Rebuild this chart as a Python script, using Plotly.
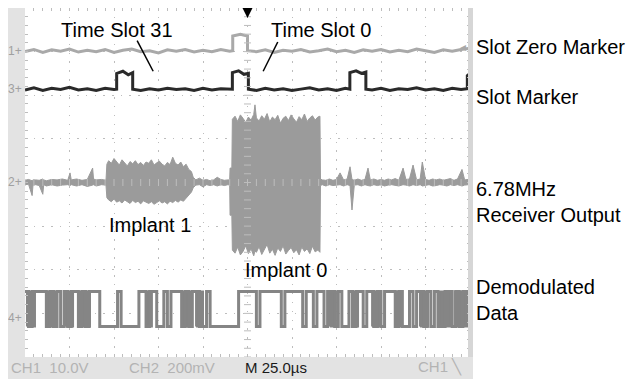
import numpy as np
import plotly.graph_objects as go

# ---------------- data (time in µs, amplitude in screen divisions) -------------
# CH1 : slot-zero marker
ch1_t = [-125, -120, -115, -110, -105, -100, -95, -90, -85, -80, -75, -70, -65, -60, -55, -50,
         -45, -40, -35, -30, -25, -20, -15, -10, -8.3, -8.3, -4, 0, 0, 5, 10, 15, 20, 25, 30,
         35, 40, 45, 50, 55, 60, 65, 70, 75, 80, 85, 90, 95, 100, 105, 110, 115, 120, 125]
ch1_v = [3.00, 3.05, 2.98, 3.04, 3.01, 3.06, 2.99, 3.03, 3.00, 3.05, 2.98, 3.03, 3.06, 3.00, 3.02, 2.97,
         3.04, 3.01, 3.05, 2.99, 3.03, 3.00, 3.05, 3.01, 3.02, 3.36, 3.40, 3.36, 3.02, 3.00, 3.04, 2.98, 3.03, 3.01, 3.05,
         2.99, 3.02, 3.06, 3.00, 3.03, 2.98, 3.04, 3.01, 3.05, 2.99, 3.03, 3.00, 3.06, 3.02, 2.98, 3.04, 3.01, 3.05, 3.08]

# CH3 : slot marker
ch3_t = [-125, -120, -115, -110, -105, -100, -95, -90, -85, -80, -75, -73.5, -73.5, -70, -67, -64.5, -64.5,
         -60, -55, -50, -45, -40, -35, -30, -25, -20, -15, -10, -8.5, -8.5, -5, -2, 0.5, 0.5,
         5, 10, 15, 20, 25, 30, 35, 40, 45, 50, 55, 57.5, 57.5, 61, 64, 66.5, 66.5,
         70, 75, 80, 85, 90, 95, 100, 105, 110, 115, 120, 123.5, 123.5, 125]
ch3_v = [2.12, 2.17, 2.11, 2.16, 2.13, 2.18, 2.12, 2.15, 2.11, 2.16, 2.13, 2.14, 2.50, 2.55, 2.47, 2.52, 2.14,
         2.11, 2.15, 2.12, 2.16, 2.13, 2.15, 2.11, 2.16, 2.12, 2.15, 2.13, 2.14, 2.52, 2.56, 2.48, 2.50, 2.14,
         2.11, 2.16, 2.12, 2.15, 2.11, 2.14, 2.17, 2.12, 2.15, 2.11, 2.16, 2.14, 2.52, 2.56, 2.50, 2.53, 2.14,
         2.12, 2.16, 2.11, 2.15, 2.13, 2.17, 2.12, 2.15, 2.11, 2.16, 2.13, 2.15, 2.45, 2.50]

# CH2 : 6.78 MHz receiver output (upper / lower envelope of the trace)
ch2_t = ([-125, -123, -121, -120.5, -119, -117, -115, -114.5, -113, -110, -107, -104, -101, -99.7, -99, -96,
          -93, -90, -87, -86.5, -85, -82, -79.5]
         + [-79, -78, -76.5, -75, -73.5, -72, -70.5, -69, -67.5, -66, -64.5, -63, -61.5, -60, -58.5, -57,
            -55.5, -54, -52.5, -51, -49.5, -48, -46.5, -45, -43.5, -42, -40.5, -39, -37.5, -36, -34.5, -33,
            -31.5, -30.5]
         + [-29, -27, -25, -23, -21, -19, -17, -15, -13, -11]
         + [-10, -9.8, -8.8, -8.5, -7, -5.5, -4, -2.5, -1, 0.5, 2, 3.5, 4.2, 5, 6.5, 8, 9.5, 11, 12.5, 14,
            15.5, 17, 18.5, 20, 21.5, 23, 24.5, 26, 27.5, 29, 30.5, 32, 33.5, 35, 36.5, 38, 39.5, 40.7, 41]
         + [42, 44, 46, 48, 50, 52, 54, 56, 57.6, 58.7, 60, 62, 64, 66, 67.7, 69, 71, 73, 75, 77, 79, 81,
            83, 85, 87.4, 89, 91, 93, 95, 97, 98.2, 100, 102, 104, 106, 108, 110, 112, 114, 116, 118,
            120.5, 122, 124, 125])
ch2_hi = ([.05, .07, .04, .06, .06, .05, .08, .06, .04, .07, .06, .08, .05, .22, .06, .08, .05, .07, .33, .08,
           .06, .07, .05]
          + [.42, .50, .44, .55, .47, .40, .52, .45, .38, .48, .43, .50, .41, .46, .39, .47, .44, .52, .40, .45,
             .49, .42, .38, .46, .41, .58, .44, .40, .47, .36, .42, .30, .25, .12]
          + [.06, .10, .05, .07, .04, .06, .12, .07, .05, .06]
          + [.06, .33, .33, 1.45, 1.52, 1.40, 1.55, 1.47, 1.38, 1.50, 1.43, 1.56, 1.78, 1.48, 1.41, 1.53,
             1.45, 1.58, 1.39, 1.50, 1.44, 1.54, 1.36, 1.47, 1.52, 1.42, 1.55, 1.46, 1.38, 1.51, 1.44, 1.57,
             1.40, 1.48, 1.53, 1.43, 1.50, 1.52, .08]
          + [.06, .05, .08, .05, .07, .22, .06, .08, .36, .07, .05, .08, .05, .07, .33, .06, .08, .05, .07,
             .05, .08, .06, .09, .05, .33, .07, .08, .40, .06, .08, .47, .07, .05, .08, .06, .08, .05, .07,
             .09, .05, .08, .30, .06, .07, .05])
ch2_lo = ([-.05, -.04, -.30, -.06, -.05, -.07, -.27, -.05, -.08, -.05, -.08, -.06, -.05, -.07, -.05, -.08,
           -.05, -.09, -.06, -.05, -.08, -.05, -.06]
          + [-.35, -.40, -.44, -.38, -.45, -.42, -.47, -.40, -.44, -.48, -.41, -.46, -.43, -.49, -.42, -.45,
             -.48, -.44, -.50, -.46, -.42, -.47, -.44, -.49, -.43, -.46, -.41, -.45, -.40, -.43, -.36, -.30,
             -.22, -.12]
          + [-.06, -.05, -.10, -.05, -.07, -.05, -.08, -.05, -.07, -.05]
          + [-.06, -.75, -.75, -1.55, -1.62, -1.48, -1.66, -1.58, -1.45, -1.63, -1.52, -1.68, -1.57, -1.60,
             -1.47, -1.65, -1.55, -1.42, -1.62, -1.53, -1.67, -1.50, -1.58, -1.45, -1.64, -1.56, -1.49, -1.61,
             -1.54, -1.66, -1.48, -1.58, -1.52, -1.63, -1.46, -1.59, -1.55, -1.60, -.07]
          + [-.05, -.08, -.05, -.07, -.06, -.05, -.08, -.05, -.07, -.63, -.06, -.05, -.08, -.05, -.07, -.08,
             -.05, -.07, -.05, -.08, -.06, -.05, -.07, -.08, -.05, -.06, -.08, -.05, -.07, -.05, -.08, -.06,
             -.05, -.08, -.07, -.05, -.06, -.08, -.05, -.07, -.05, -.08, -.06, -.05, -.07])

# CH4 : demodulated data, one bit per 2 µs slot starting at -125 µs
ch4_bits = [1, 0, 1, 1, 1, 1, 0, 1, 0, 1, 0, 1, 0, 1, 1, 0, 1, 0, 1, 1, 1,
            0, 0, 0, 0, 0, 1, 0, 0, 0, 0, 0,
            1, 1, 0, 1, 1, 0, 0, 1, 0, 1, 1, 1, 0, 1, 0, 1, 1, 0, 0, 1,
            0, 0, 0, 0, 0, 0, 0, 0,
            1, 1, 1, 1, 1, 0, 1, 1, 1, 1, 1, 1, 0, 1, 1, 1, 1, 1, 0, 1, 1, 0, 1,
            1, 0, 1, 1, 0, 1, 0, 0, 1, 0, 1, 1, 0, 1, 1, 0, 1, 0, 1, 1, 1, 0, 1, 0, 0, 1, 0,
            1, 1, 0, 1, 0, 1, 0, 0, 1, 1, 0, 1, 0, 1, 1]
ch4_slot = 2.0
ch4_high, ch4_low = -2.5, -3.3
# spans where the data toggles faster than the screen resolves (solid blocks), µs
ch4_block_start = [-123.9, -112.1, -102.0, -94.1, -57.0, -36.2, -28.9, 46.3, 58.7, 70.0, 82.9, 96.9, 108.1, 116.6]
ch4_block_end = [-119.4, -107.0, -98.0, -88.5, -53.7, -32.3, -25.0, 49.7, 62.1, 74.4, 85.7, 101.4, 113.8, 123.9]

assert len(ch1_t) == len(ch1_v)
assert len(ch3_t) == len(ch3_v)
assert len(ch2_t) == len(ch2_hi) == len(ch2_lo)

# ---------------- texts ----------------
right_labels = ["Slot Zero Marker", "Slot Marker", "6.78MHz<br>Receiver Output", "Demodulated<br>Data"]
inner_labels = ["Time Slot 31", "Time Slot 0", "Implant 1", "Implant 0"]
status_texts = ["CH1  10.0V", "CH2  200mV", "M 25.0\u00b5s", "CH1 \u2572"]
channel_tags = ["1+", "3+", "2+", "4+"]

# ---------------- geometry (reference-screen pixels) ----------------
PAGE_OFF = 8                          # browser body margin
W, H = 634 - PAGE_OFF, 379 - PAGE_OFF
L, R, T, B = 25, 470, 8, 357          # graticule in screen pixels


def px(xp):
    return (xp - L) / (R - L)


def py(yp):
    return (B - yp) / (B - T)


FONT = "Liberation Sans, Arial, sans-serif"
GRID = "#bdbdbd"
FS = 20

fig = go.Figure()

# CH2 envelope
fig.add_trace(go.Scatter(x=ch2_t + ch2_t[::-1], y=ch2_hi + ch2_lo[::-1], mode="lines",
                         fill="toself", fillcolor="#9b9b9b",
                         line=dict(color="#9b9b9b", width=1), hoverinfo="skip"))
# CH1
fig.add_trace(go.Scatter(x=ch1_t, y=ch1_v, mode="lines", line=dict(color="#a9a9a9", width=3)))
# CH3
fig.add_trace(go.Scatter(x=ch3_t, y=ch3_v, mode="lines", line=dict(color="#2a2a2a", width=3)))
# CH4 solid blocks
bx, by = [], []
for s, e in zip(ch4_block_start, ch4_block_end):
    bx += [s, e, e, s, s, None]
    by += [ch4_low, ch4_low, ch4_high, ch4_high, ch4_low, None]
fig.add_trace(go.Scatter(x=bx, y=by, mode="lines", fill="toself", fillcolor="#858585",
                         line=dict(color="#858585", width=2)))
# CH4 data
ch4_x = [-125 + ch4_slot * k for k in range(len(ch4_bits) + 1)]
ch4_y = [ch4_high if b else ch4_low for b in ch4_bits]
ch4_y = ch4_y + [ch4_y[-1]]
fig.add_trace(go.Scatter(x=ch4_x, y=ch4_y, mode="lines", line_shape="hv",
                         line=dict(color="#858585", width=3)))

# centre cross-hair ticks
cx = np.arange(-125, 125.01, 5)
cy = np.arange(-4, 4.01, 0.2)
fig.add_trace(go.Scatter(x=cx, y=[0] * len(cx), mode="markers",
                         marker=dict(symbol="line-ns", size=5, line=dict(color=GRID, width=1))))
fig.add_trace(go.Scatter(x=[0] * len(cy), y=cy, mode="markers",
                         marker=dict(symbol="line-ew", size=5, line=dict(color=GRID, width=1))))

shapes = []
band = "#e3e3e3"
shapes.append(dict(type="rect", xref="paper", yref="paper", x0=px(8), x1=px(L), y0=py(379), y1=py(T),
                   fillcolor=band, line_width=0, layer="below"))
shapes.append(dict(type="rect", xref="paper", yref="paper", x0=px(8), x1=px(473), y0=py(379), y1=py(B),
                   fillcolor=band, line_width=0, layer="below"))
shapes.append(dict(type="rect", xref="paper", yref="paper", x0=px(468), x1=px(473), y0=py(B), y1=py(T),
                   fillcolor="#d6d6d6", line_width=0))
leaders = [(-62.0, 3.25, -53.0, 2.55), (17.0, 3.22, 8.8, 2.55)]
for x0, y0, x1, y1 in leaders:
    shapes.append(dict(type="line", x0=x0, y0=y0, x1=x1, y1=y1, line=dict(color="black", width=1.5)))

ann = []
right_y = [47, 97, 202, 300]
for txt, yp in zip(right_labels, right_y):
    ann.append(dict(text=txt, xref="paper", yref="paper", x=px(474), y=py(yp), xanchor="left",
                    yanchor="middle", showarrow=False, align="left",
                    font=dict(family=FONT, size=FS, color="black")))
inner_pos = [(-73.3, 3.50), (41.3, 3.50), (-54.8, -0.97), (21.6, -2.0)]
for txt, (xx, yy) in zip(inner_labels, inner_pos):
    ann.append(dict(text=txt, x=xx, y=yy, xanchor="center", yanchor="middle", showarrow=False,
                    font=dict(family=FONT, size=FS, color="black")))
status_x = [9, 127, 243, 416]
status_col = ["#b3b3b3", "#b3b3b3", "#1a1a1a", "#b3b3b3"]
for txt, xp, c in zip(status_texts, status_x, status_col):
    ann.append(dict(text=txt, xref="paper", yref="paper", x=px(xp), y=py(367), xanchor="left",
                    yanchor="middle", showarrow=False,
                    font=dict(family="Liberation Sans Narrow, Arial Narrow, Liberation Sans", size=15, color=c)))
tag_y = [51, 89, 182, 318]
for txt, yp in zip(channel_tags, tag_y):
    ann.append(dict(text=txt, xref="paper", yref="paper", x=px(24), y=py(yp), xanchor="right",
                    yanchor="middle", showarrow=False, font=dict(family=FONT, size=12, color="#a0a0a0")))
ann.append(dict(x=0, y=3.77, xref="x", yref="y", ax=0, ay=-10, text="", showarrow=True,
                arrowhead=2, arrowsize=1.5, arrowwidth=2.2, arrowcolor="black"))
ann.append(dict(text="\u25c2", xref="paper", yref="paper", x=px(468), y=py(47), xanchor="right",
                yanchor="middle", showarrow=False, font=dict(family=FONT, size=12, color="#a8a8a8")))

axis_common = dict(showticklabels=False, zeroline=False, showline=False, ticks="inside",
                   ticklen=3, tickcolor=GRID, mirror="ticks", showgrid=True, gridcolor=GRID,
                   gridwidth=1, fixedrange=True)
fig.update_layout(
    width=W, height=H, autosize=False,
    margin=dict(l=L - PAGE_OFF, r=634 - R, t=T - PAGE_OFF, b=379 - B, pad=0),
    paper_bgcolor="white", plot_bgcolor="white", showlegend=False,
    xaxis=dict(range=[-125, 125], dtick=25, tick0=-125, griddash="1.5px,7.4px",
               minor=dict(dtick=5, ticks="inside", ticklen=3, tickcolor=GRID, showgrid=False),
               **axis_common),
    yaxis=dict(range=[-4, 4], dtick=1, tick0=-4, griddash="1.5px,7.2px",
               minor=dict(dtick=0.2, ticks="inside", ticklen=3, tickcolor=GRID, showgrid=False),
               **axis_common),
    shapes=shapes, annotations=ann,
)

fig.write_html("out.html")
